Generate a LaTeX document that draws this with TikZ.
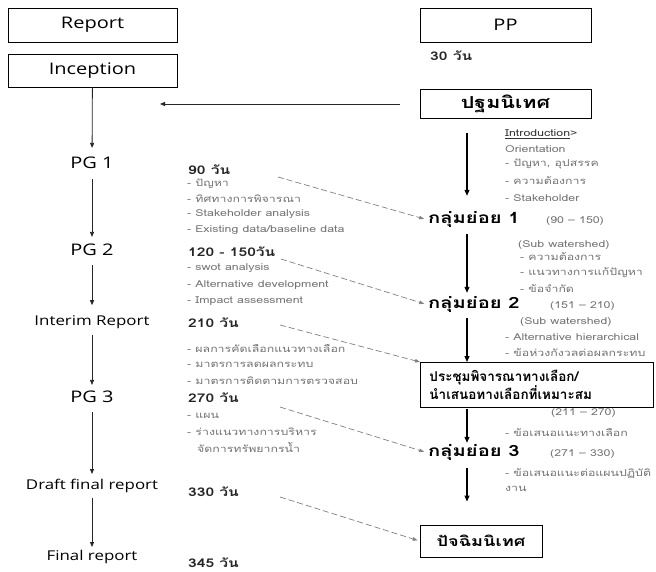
\documentclass[tikz,border=0pt]{standalone}
\usepackage{fontspec}
\setmainfont[Script=Thai,FakeStretch=1.3]{Loma}
\newfontfamily\thn[Script=Thai]{Loma}
\newfontfamily\lat[FakeStretch=1.25]{Open Sans}
\usetikzlibrary{arrows.meta}
\begin{document}
\begin{tikzpicture}[x=1pt,y=-1pt,
  box/.style={draw, line width=0.8pt, minimum width=169pt, minimum height=34pt, inner sep=0pt, font=\lat\fontsize{16}{18}\selectfont},
  thbox/.style={draw, line width=0.9pt, inner sep=0pt, font=\bfseries\fontsize{16.5}{18}\selectfont},
  stage/.style={inner sep=0pt, font=\lat\fontsize{16}{18}\selectfont},
  stagesm/.style={inner sep=0pt, font=\lat\fontsize{13.5}{16}\selectfont},
  days/.style={anchor=west, inner sep=0pt, font=\bfseries\fontsize{12}{14}\selectfont, text=black!85},
  note/.style={anchor=west, inner sep=0pt, font=\fontsize{9.5}{11}\selectfont, text=black!55},
  grp/.style={anchor=west, inner sep=0pt, font=\bfseries\fontsize{15.5}{18}\selectfont},
  arr/.style={-{Triangle[length=5pt,width=4pt]}, line width=0.8pt, draw=black!85},
  rarr/.style={-{Triangle[length=6pt,width=5pt]}, line width=1.2pt},
  darr/.style={-{Triangle[length=5pt,width=3.5pt]}, dash pattern=on 6pt off 3pt, draw=black!50, line width=0.7pt},
]
\useasboundingbox[fill=white] (0,0) rectangle (656,572);

% boxes
\node[box] (report) at (92.5,25) {Report};
\node[box, minimum height=33pt] (incep) at (92.5,70.5) {Inception};
\node[box, minimum width=171pt] (pp) at (505.5,25) {PP};
\node[thbox, minimum width=171pt, minimum height=29pt] (pathom) at (505.5,104) {ปฐมนิเทศ};
\node[thbox, minimum width=122pt, minimum height=32pt, font=\bfseries\fontsize{14}{16}\selectfont] (pachim) at (481,541) {ปัจฉิมนิเทศ};
\node[draw, line width=0.9pt, anchor=north west, text width=215pt, minimum height=45pt, inner xsep=9pt, inner ysep=4pt, align=left, font=\thn\bfseries\fontsize{13.5}{18}\selectfont] (meet) at (420,362) {ประชุมพิจารณาทางเลือก/\\นำเสนอทางเลือกที่เหมาะสม};

\node[days] (d30) at (430,56) {30 วัน};

% left column
\node[stage] (pg1) at (92,163) {PG 1};
\node[stage] (pg2) at (92,250) {PG 2};
\node[stagesm] (interim) at (92,322) {Interim Report};
\node[stage] (pg3) at (92,397) {PG 3};
\node[stagesm] (draft) at (92,486) {Draft final report};
\node[stagesm] (final) at (92,557) {Final report};

\draw[arr, shorten >=9pt] (incep) -- (pg1);
\draw[arr, shorten <=10pt, shorten >=7pt] (pg1) -- (pg2);
\draw[arr, shorten <=9pt, shorten >=10pt] (pg2) -- (interim);
\draw[arr, shorten <=6pt, shorten >=6pt] (interim) -- (pg3);
\draw[arr, shorten <=9pt, shorten >=5pt] (pg3) -- (draft);
\draw[arr, shorten <=5pt, shorten >=3pt] (draft) -- (final);

\coordinate (harr) at (160,104);
\draw[arr, shorten <=20pt] (pathom.west) -- (harr);

% middle column
\node[days] (d90) at (188,170) {90 วัน};
\node[note] (n1) at (187,184) {- ปัญหา};
\node[note] (n2) at (187,199) {- ทิศทางการพิจารณา};
\node[note] (n3) at (187,214) {- Stakeholder analysis};
\node[note] (n4) at (187,230) {- Existing data/baseline data};
\node[days] (d120) at (188,252) {120 - 150วัน};
\node[note] (n5) at (187,268) {- swot analysis};
\node[note] (n6) at (187,285) {- Alternative development};
\node[note] (n7) at (187,301) {- Impact assessment};
\node[days] (d210) at (188,323) {210 วัน};
\node[note] (n8) at (187,349) {- ผลการคัดเลือกแนวทางเลือก};
\node[note] (n9) at (187,365) {- มาตรการลดผลกระทบ};
\node[note] (n10) at (187,381) {- มาตรการติดตามการตรวจสอบ};
\node[days] (d270) at (188,398) {270 วัน};
\node[note] (n11) at (187,416) {- แผน};
\node[note] (n12) at (187,432) {- ร่างแนวทางการบริหาร};
\node[note] (n13) at (197,447) {จัดการทรัพยากรน้ำ};
\node[days] (d330) at (188,492) {330 วัน};
\node[days] (d345) at (188,563) {345 วัน};

% right column
\node[grp] (g1) at (428,220) {กลุ่มย่อย 1};
\node[grp] (g2) at (428,305) {กลุ่มย่อย 2};
\node[grp] (g3) at (428,453) {กลุ่มย่อย 3};

\node[note, text=black!80] (r1) at (505,134) {\underline{Introduction}>};
\node[note] (r2) at (505,149) {Orientation};
\node[note] (r3) at (505,164) {- ปัญหา, อุปสรรค};
\node[note] (r4) at (505,181) {- ความต้องการ};
\node[note] (r5) at (505,198) {- Stakeholder};
\node[note] (r6) at (546,221) {(90 – 150)};
\node[note] (r7) at (518,245) {(Sub watershed)};
\node[note] (r8) at (520,257) {- ความต้องการ};
\node[note] (r9) at (520,273) {- แนวทางการแก้ปัญหา};
\node[note] (r10) at (520,289) {- ข้อจำกัด};
\node[note] (r11) at (550,306) {(151 – 210)};
\node[note] (r12) at (520,322) {(Sub watershed)};
\node[note] (r13) at (505,337) {- Alternative hierarchical};
\node[note] (r14) at (505,353) {- ข้อห่วงกังวลต่อผลกระทบ};
\node[note] (r15) at (551,413) {(211 – 270)};
\node[note] (r16) at (505,433) {- ข้อเสนอแนะทางเลือก};
\node[note] (r17) at (550,454) {(271 – 330)};
\node[note] (r18) at (505,473) {- ข้อเสนอแนะต่อแผนปฏิบัติ};
\node[note] (r19) at (505,489) {งาน};

\coordinate (colR) at (467,0);
\draw[rarr, shorten <=14pt, shorten >=16pt] (pathom.south -| colR) -- (g1.north -| colR);
\draw[rarr, shorten <=6pt, shorten >=4pt] (g1.south -| colR) -- (g2.north -| colR);
\draw[rarr, shorten <=5pt] (g2.south -| colR) -- (meet.north -| colR);
\draw[rarr, shorten <=1pt, shorten >=2pt] (meet.south -| colR) -- (g3.north -| colR);
\draw[rarr, shorten <=7pt, shorten >=23pt] (g3.south -| colR) -- (pachim.north -| colR);

% dashed links
\coordinate (s1) at (278,177);
\coordinate (s2) at (281,259);
\coordinate (s3) at (280,325);
\coordinate (s4) at (280,407);
\coordinate (s5) at (280,497);
\draw[darr, shorten >=4pt] (s1) -- (g1.west);
\draw[darr, shorten >=4pt] (s2) -- (g2.west);
\draw[darr] (s3) -- (meet.north west);
\draw[darr, shorten >=4pt] (s4) -- (g3.west);
\draw[darr, shorten >=2pt] (s5) -- (pachim.west);
\end{tikzpicture}
\end{document}
